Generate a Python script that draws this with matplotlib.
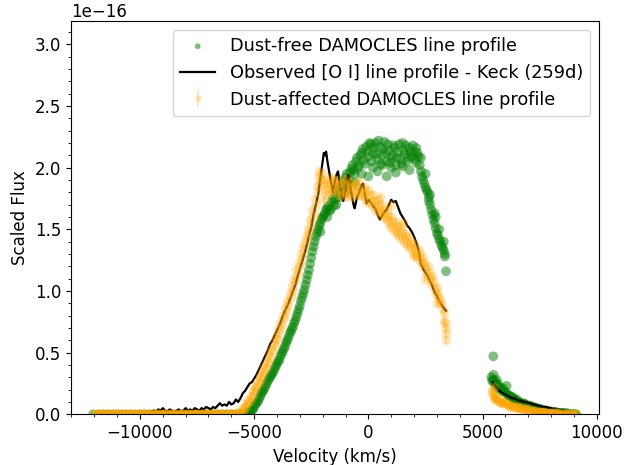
import matplotlib
matplotlib.use("Agg")
import matplotlib.pyplot as plt
import numpy as np

plt.rcParams['font.size'] = 12

SCALE = 1e-16

# ---------------- Observed [O I] line profile (Keck, 259d) ----------------
obs_blue_v = [-9500, -9400, -9300, -9200, -9100, -9000, -8900, -8800, -8700, -8600,
              -8500, -8400, -8300, -8200, -8100, -8000, -7900, -7800, -7700, -7600,
              -7500, -7400, -7300, -7200, -7100, -7000, -6900, -6800, -6700, -6600,
              -6500, -6400, -6300, -6200, -6100, -6000, -5900, -5800, -5700, -5600,
              -5500, -5400, -5300, -5200, -5100, -5000, -4900, -4800, -4700, -4600,
              -4500, -4400, -4300, -4200, -4100, -4000, -3900, -3800, -3700, -3600,
              -3500, -3400, -3300, -3200, -3100, -3000, -2900, -2800, -2700, -2600,
              -2500, -2400, -2300, -2200, -2100, -2000, -1950, -1900, -1850, -1800,
              -1700, -1600, -1550, -1500, -1400, -1330, -1250, -1150, -1100, -1000,
              -900, -850, -750, -650, -600, -500, -400, -300, -230, -150,
              -80, 0, 100, 200, 300, 400, 500, 600, 700, 800,
              900, 1000, 1100, 1200, 1300, 1400, 1500, 1600, 1700, 1800,
              1900, 2000, 2100, 2200, 2300, 2400, 2500, 2600, 2700, 2800,
              2900, 3000, 3100, 3200, 3300, 3400]
obs_blue_f = [0.02, 0.03, 0.02, 0.04, 0.03, 0.05, 0.03, 0.02, 0.04, 0.03,
              0.02, 0.03, 0.04, 0.02, 0.03, 0.05, 0.03, 0.04, 0.03, 0.05,
              0.04, 0.03, 0.05, 0.04, 0.06, 0.05, 0.04, 0.06, 0.05, 0.07,
              0.09, 0.07, 0.08, 0.07, 0.10, 0.08, 0.09, 0.12, 0.10, 0.13,
              0.17, 0.19, 0.22, 0.25, 0.26, 0.29, 0.32, 0.36, 0.40, 0.44,
              0.48, 0.52, 0.57, 0.60, 0.64, 0.68, 0.72, 0.77, 0.82, 0.86,
              0.90, 0.95, 1.00, 1.05, 1.12, 1.18, 1.24, 1.30, 1.37, 1.45,
              1.52, 1.62, 1.70, 1.78, 1.92, 2.05, 2.12, 2.10, 2.13, 2.06,
              1.95, 1.84, 1.80, 1.86, 1.94, 1.97, 1.86, 1.76, 1.73, 1.82,
              1.94, 1.93, 1.80, 1.70, 1.67, 1.76, 1.80, 1.86, 1.87, 1.78,
              1.71, 1.74, 1.72, 1.69, 1.67, 1.62, 1.58, 1.61, 1.64, 1.66,
              1.70, 1.74, 1.72, 1.73, 1.68, 1.63, 1.60, 1.57, 1.53, 1.51,
              1.48, 1.44, 1.39, 1.33, 1.22, 1.18, 1.15, 1.12, 1.08, 1.04,
              0.99, 0.96, 0.92, 0.89, 0.86, 0.84]
obs_red_v = [5450, 5500, 5600, 5700, 5800, 5900, 6000, 6100, 6200, 6300,
             6400, 6500, 6600, 6700, 6800, 6900, 7000, 7100, 7200, 7300,
             7400, 7500, 7600, 7700, 7800, 7900, 8000, 8100, 8200, 8300,
             8400, 8500, 8600, 8700, 8800, 8900, 9000]
obs_red_f = [0.26, 0.24, 0.22, 0.20, 0.18, 0.17, 0.16, 0.15, 0.14, 0.13,
             0.13, 0.12, 0.11, 0.11, 0.10, 0.10, 0.09, 0.09, 0.08, 0.08,
             0.07, 0.07, 0.06, 0.06, 0.06, 0.05, 0.05, 0.04, 0.04, 0.04,
             0.03, 0.03, 0.02, 0.02, 0.02, 0.01, 0.01]

# ---------------- Dust-free DAMOCLES model ----------------
free_flat_v = [-12050, -11800, -11600, -11400, -11200, -11000, -10800, -10600, -10400, -10200,
               -10000, -9800, -9600, -9400, -9200, -9000, -8800, -8600, -8400, -8200,
               -8000, -7800, -7600, -7400, -7200, -7000, -6800, -6600, -6400, -6200,
               -6000, -5800, -5600, -5400]
free_flat_f = [0, 0, 0, 0, 0, 0, 0, 0, 0, 0,
               0, 0, 0, 0, 0, 0, 0, 0, 0, 0,
               0, 0, 0, 0, 0, 0, 0, 0, 0, 0,
               0, 0, 0, 0]
free_body_v = [-5300, -5200, -5100, -5000, -4900, -4800, -4700, -4600, -4500, -4400,
               -4300, -4200, -4100, -4000, -3900, -3800, -3700, -3600, -3500, -3400,
               -3300, -3200, -3100, -3000, -2900, -2800, -2700, -2600, -2500, -2400,
               -2300, -2200, -2100, -2000, -1900, -1800, -1700, -1600, -1500, -1400,
               -1300, -1200, -1100, -1000, -900, -800, -700, -600, -500, -400,
               -300, -200, -100, 0, 100, 200, 300, 400, 500, 600,
               700, 800, 900, 1000, 1100, 1200, 1300, 1400, 1500, 1600,
               1700, 1800, 1900, 2000, 2100, 2200, 2300, 2400, 2500, 2600,
               2700, 2800, 2900, 3000, 3100, 3200, 3300, 3400]
free_body_f = [0.00, 0.02, 0.03, 0.06, 0.09, 0.12, 0.16, 0.19, 0.23, 0.27,
               0.30, 0.33, 0.37, 0.41, 0.44, 0.49, 0.53, 0.58, 0.62, 0.67,
               0.71, 0.76, 0.82, 0.88, 0.95, 1.01, 1.09, 1.17, 1.27, 1.36,
               1.44, 1.50, 1.55, 1.60, 1.63, 1.67, 1.65, 1.72, 1.69, 1.80,
               1.76, 1.86, 1.82, 1.92, 1.87, 1.96, 2.02, 1.95, 2.08, 2.02,
               2.12, 2.06, 2.17, 2.09, 2.19, 2.12, 2.20, 2.07, 2.17, 2.10,
               2.21, 2.05, 2.14, 2.08, 2.18, 2.02, 2.13, 2.07, 2.20, 2.11,
               2.05, 2.16, 2.09, 2.13, 2.04, 2.09, 1.97, 1.90, 1.84, 1.80,
               1.70, 1.62, 1.55, 1.47, 1.42, 1.37, 1.33, 1.16]
free_body2_v = [-5250, -5150, -5050, -4950, -4850, -4750, -4650, -4550, -4450, -4350,
                -4250, -4150, -4050, -3950, -3850, -3750, -3650, -3550, -3450, -3350,
                -3250, -3150, -3050, -2950, -2850, -2750, -2650, -2550, -2450, -2350,
                -2250, -2150, -2050, -1950, -1850, -1750, -1650, -1550, -1450, -1350,
                -1250, -1150, -1050, -950, -850, -750, -650, -550, -450, -350,
                -250, -150, -50, 50, 150, 250, 350, 450, 550, 650,
                750, 850, 950, 1050, 1150, 1250, 1350, 1450, 1550, 1650,
                1750, 1850, 1950, 2050, 2150, 2250, 2350, 2450, 2550, 2650,
                2750, 2850, 2950, 3050, 3150, 3250, 3350,
                -600, -300, 0, 200, 400, 600, 800, 1000, 1200, 1500,
                1800, 2100, 2300, 2500, 2700, 2900, 3100, 3300, -1400, -1000,
                -2100, -1800, 3350, 2950, 2650]
free_body2_f = [0.01, 0.03, 0.04, 0.08, 0.10, 0.14, 0.18, 0.21, 0.25, 0.29,
                0.32, 0.35, 0.39, 0.43, 0.47, 0.51, 0.55, 0.60, 0.65, 0.69,
                0.74, 0.79, 0.85, 0.92, 0.98, 1.05, 1.13, 1.22, 1.32, 1.40,
                1.47, 1.53, 1.58, 1.61, 1.66, 1.69, 1.66, 1.75, 1.74, 1.83,
                1.79, 1.89, 1.84, 1.95, 1.90, 1.99, 1.98, 2.05, 2.00, 2.10,
                2.15, 2.03, 2.13, 2.20, 2.05, 2.16, 2.11, 2.22, 2.03, 2.15,
                2.12, 2.19, 2.04, 2.10, 2.16, 2.08, 2.19, 2.03, 2.14, 2.18,
                2.08, 2.12, 2.18, 2.07, 2.12, 2.02, 1.93, 1.87, 1.82, 1.73,
                1.66, 1.58, 1.51, 1.45, 1.40, 1.35, 1.30,
                1.88, 1.95, 1.93, 2.00, 1.97, 2.02, 1.93, 2.00, 1.96, 2.01,
                1.98, 2.16, 2.08, 1.95, 1.78, 1.63, 1.50, 1.40, 1.70, 1.80,
                1.48, 1.60, 1.28, 1.60, 1.76]
free_red_v = [5380, 5450, 5500, 5470, 5600, 5650, 5700, 5800, 5900, 6000,
              6050, 6100, 6200, 6300, 6400, 6500, 6600, 6700, 6800, 6900,
              7000, 7100, 7200, 7300, 7400, 7500, 7600, 7700, 7800, 7900,
              8000, 8100, 8200, 8300, 8400, 8500, 8600, 8700, 8800, 8900,
              9000, 9100,
              5420, 5480, 5530, 5580, 5620, 5680, 5750, 5850, 5950, 6150,
              6250, 6350, 6450, 6550, 6650, 6750, 6850, 6950, 7050, 7150,
              7250, 7350, 7450, 7550, 7650, 7750, 7850, 7950, 8050, 8150,
              8250, 8350, 8450, 8550, 8650, 8750, 8850, 8950, 9050]
free_red_f = [0.30, 0.28, 0.26, 0.47, 0.25, 0.22, 0.24, 0.20, 0.21, 0.18,
              0.23, 0.16, 0.15, 0.14, 0.12, 0.12, 0.10, 0.09, 0.09, 0.08,
              0.07, 0.07, 0.06, 0.05, 0.05, 0.04, 0.04, 0.03, 0.03, 0.03,
              0.02, 0.02, 0.02, 0.01, 0.01, 0.01, 0.01, 0.01, 0.00, 0.00,
              0.00, 0.00,
              0.27, 0.32, 0.27, 0.24, 0.28, 0.21, 0.22, 0.19, 0.18, 0.15,
              0.14, 0.13, 0.11, 0.10, 0.09, 0.08, 0.08, 0.07, 0.06, 0.06,
              0.05, 0.05, 0.04, 0.04, 0.03, 0.03, 0.02, 0.02, 0.02, 0.02,
              0.01, 0.01, 0.01, 0.01, 0.00, 0.00, 0.00, 0.00, 0.00]

# ---------------- Dust-affected DAMOCLES model ----------------
dust_flat_v = [-12000, -11950, -11900, -11850, -11800, -11750, -11700, -11650, -11600, -11550,
               -11500, -11450, -11400, -11350, -11300, -11250, -11200, -11150, -11100, -11050,
               -11000, -10950, -10900, -10850, -10800, -10750, -10700, -10650, -10600, -10550,
               -10500, -10450, -10400, -10350, -10300, -10250, -10200, -10150, -10100, -10050,
               -10000, -9950, -9900, -9850, -9800, -9750, -9700, -9650, -9600, -9550,
               -9500, -9450, -9400, -9350, -9300, -9250, -9200, -9150, -9100, -9050,
               -9000, -8950, -8900, -8850, -8800, -8750, -8700, -8650, -8600, -8550,
               -8500, -8450, -8400, -8350, -8300, -8250, -8200, -8150, -8100, -8050,
               -8000, -7950, -7900, -7850, -7800, -7750, -7700, -7650, -7600, -7550,
               -7500, -7450, -7400, -7350, -7300, -7250, -7200, -7150, -7100, -7050,
               -7000, -6950, -6900, -6850, -6800, -6750, -6700, -6650, -6600, -6550,
               -6500, -6450, -6400, -6350, -6300, -6250, -6200, -6150, -6100, -6050,
               -6000, -5950, -5900, -5850, -5800, -5750, -5700]
dust_flat_f = [0.0] * len(dust_flat_v)
dust_body_v = [-5600, -5500, -5400, -5300, -5200, -5100, -5000, -4900, -4800, -4700,
               -4600, -4500, -4400, -4300, -4200, -4100, -4000, -3900, -3800, -3700,
               -3600, -3500, -3400, -3300, -3200, -3100, -3000, -2900, -2800, -2700,
               -2600, -2500, -2400, -2300, -2200, -2100, -2000, -1900, -1800, -1700,
               -1600, -1500, -1400, -1300, -1200, -1100, -1000, -900, -800, -700,
               -600, -500, -400, -300, -200, -100, 0, 100, 200, 300,
               400, 500, 600, 700, 800, 900, 1000, 1100, 1200, 1300,
               1400, 1500, 1600, 1700, 1800, 1900, 2000, 2100, 2200, 2300,
               2400, 2500, 2600, 2700, 2800, 2900, 3000, 3100, 3200, 3300,
               3350, 3400, 3420,
               -2150, -1950, -1000, 500, 1000, 1500, 2000, 2500, 3000, 3300]
dust_body_f = [0.01, 0.03, 0.05, 0.08, 0.11, 0.14, 0.18, 0.21, 0.25, 0.29,
               0.33, 0.37, 0.41, 0.46, 0.51, 0.56, 0.61, 0.66, 0.72, 0.78,
               0.83, 0.89, 0.95, 1.01, 1.08, 1.14, 1.20, 1.27, 1.34, 1.41,
               1.47, 1.54, 1.62, 1.70, 1.80, 1.90, 1.95, 1.82, 1.88, 1.80,
               1.92, 1.84, 1.90, 1.78, 1.87, 1.79, 1.91, 1.83, 1.88, 1.76,
               1.86, 1.80, 1.89, 1.77, 1.84, 1.75, 1.82, 1.72, 1.78, 1.68,
               1.74, 1.64, 1.70, 1.60, 1.66, 1.55, 1.60, 1.50, 1.56, 1.46,
               1.52, 1.42, 1.47, 1.38, 1.43, 1.34, 1.38, 1.29, 1.33, 1.24,
               1.27, 1.18, 1.20, 1.10, 1.12, 1.02, 1.03, 0.94, 0.90, 0.82,
               0.74, 0.66, 0.60,
               1.97, 1.74, 1.76, 1.76, 1.70, 1.55, 1.28, 1.10, 0.90, 0.76]
dust_body2_v = [-5650, -5550, -5450, -5350, -5250, -5150, -5050, -4950, -4850, -4750,
                -4650, -4550, -4450, -4350, -4250, -4150, -4050, -3950, -3850, -3750,
                -3650, -3550, -3450, -3350, -3250, -3150, -3050, -2950, -2850, -2750,
                -2650, -2550, -2450, -2350, -2250, -2150, -2050, -1950, -1850, -1750,
                -1650, -1550, -1450, -1350, -1250, -1150, -1050, -950, -850, -750,
                -650, -550, -450, -350, -250, -150, -50, 50, 150, 250,
                350, 450, 550, 650, 750, 850, 950, 1050, 1150, 1250,
                1350, 1450, 1550, 1650, 1750, 1850, 1950, 2050, 2150, 2250,
                2350, 2450, 2550, 2650, 2750, 2850, 2950, 3050, 3150, 3250,
                3380]
dust_body2_f = [0.02, 0.04, 0.06, 0.09, 0.12, 0.15, 0.20, 0.23, 0.27, 0.31,
                0.35, 0.39, 0.43, 0.48, 0.53, 0.58, 0.63, 0.69, 0.74, 0.80,
                0.86, 0.92, 0.98, 1.04, 1.10, 1.17, 1.23, 1.30, 1.37, 1.44,
                1.50, 1.58, 1.66, 1.75, 1.85, 1.93, 1.86, 1.90, 1.78, 1.86,
                1.83, 1.89, 1.80, 1.86, 1.82, 1.88, 1.80, 1.86, 1.79, 1.84,
                1.81, 1.86, 1.78, 1.83, 1.79, 1.80, 1.72, 1.78, 1.70, 1.73,
                1.65, 1.70, 1.62, 1.66, 1.58, 1.62, 1.52, 1.57, 1.48, 1.53,
                1.44, 1.49, 1.40, 1.45, 1.36, 1.40, 1.31, 1.35, 1.27, 1.30,
                1.21, 1.23, 1.14, 1.16, 1.06, 1.08, 0.98, 0.97, 0.91, 0.85,
                0.70]
dust_red_v = [5400, 5450, 5500, 5550, 5600, 5700, 5800, 5900, 6000, 6100,
              6200, 6300, 6400, 6500, 6600, 6700, 6800, 6900, 7000, 7100,
              7200, 7300, 7400, 7500, 7600, 7700, 7800, 7900, 8000, 8100,
              8200, 8300, 8400, 8500, 8600, 8700, 8800, 8900, 9000, 9100,
              5420, 5480, 5530, 5580, 5650, 5750, 5850, 5950, 6050, 6150,
              6250, 6350, 6450, 6550, 6650, 6750, 6850, 6950, 7050, 7150,
              7250, 7350, 7450, 7550, 7650, 7750, 7850, 7950, 8050, 8150,
              8250, 8350, 8450, 8550, 8650, 8750, 8850, 8950, 9050]
dust_red_f = [0.20, 0.16, 0.14, 0.12, 0.13, 0.11, 0.10, 0.09, 0.09, 0.08,
              0.07, 0.07, 0.06, 0.06, 0.05, 0.05, 0.04, 0.04, 0.04, 0.03,
              0.03, 0.03, 0.02, 0.02, 0.02, 0.02, 0.01, 0.01, 0.01, 0.01,
              0.01, 0.01, 0.00, 0.00, 0.00, 0.00, 0.00, 0.00, 0.00, 0.00,
              0.18, 0.22, 0.13, 0.15, 0.12, 0.10, 0.09, 0.10, 0.08, 0.07,
              0.07, 0.06, 0.06, 0.05, 0.05, 0.04, 0.04, 0.04, 0.03, 0.03,
              0.03, 0.02, 0.02, 0.02, 0.02, 0.01, 0.01, 0.01, 0.01, 0.01,
              0.01, 0.00, 0.00, 0.00, 0.00, 0.00, 0.00, 0.00, 0.00]
dust_err = 0.03

free_v = np.concatenate([free_flat_v, free_body_v, free_body2_v, free_red_v])
free_f = np.concatenate([free_flat_f, free_body_f, free_body2_f, free_red_f])
dust_v = np.concatenate([dust_flat_v, dust_body_v, dust_body2_v, dust_red_v])
dust_f = np.concatenate([dust_flat_f, dust_body_f, dust_body2_f, dust_red_f])
obs_v = np.concatenate([obs_blue_v, [np.nan], obs_red_v])
obs_f = np.concatenate([obs_blue_f, [np.nan], obs_red_f])

fig = plt.figure(figsize=(6.26, 4.65), dpi=100)
ax = fig.add_axes([0.113, 0.109, 0.844, 0.846])

ax.scatter(free_v, free_f * SCALE, s=49, color='green', alpha=0.5,
           edgecolors='none', label='Dust-free DAMOCLES line profile')
ax.plot(obs_v, obs_f * SCALE, color='black', lw=1.6,
        label='Observed [O I] line profile - Keck (259d)')
ax.errorbar(dust_v, dust_f * SCALE, yerr=dust_err * SCALE, fmt='o',
            color='orange', ms=7, mec='none', alpha=0.28,
            label='Dust-affected DAMOCLES line profile')

ax.set_xlim(-13030, 10100)
ax.set_ylim(0, 3.19e-16)
ax.set_xlabel('Velocity (km/s)')
ax.set_ylabel('Scaled Flux')
ax.minorticks_on()
ax.legend(loc='upper right', markerscale=0.6, fontsize=12.8)

fig.savefig('out.png', dpi=100)
